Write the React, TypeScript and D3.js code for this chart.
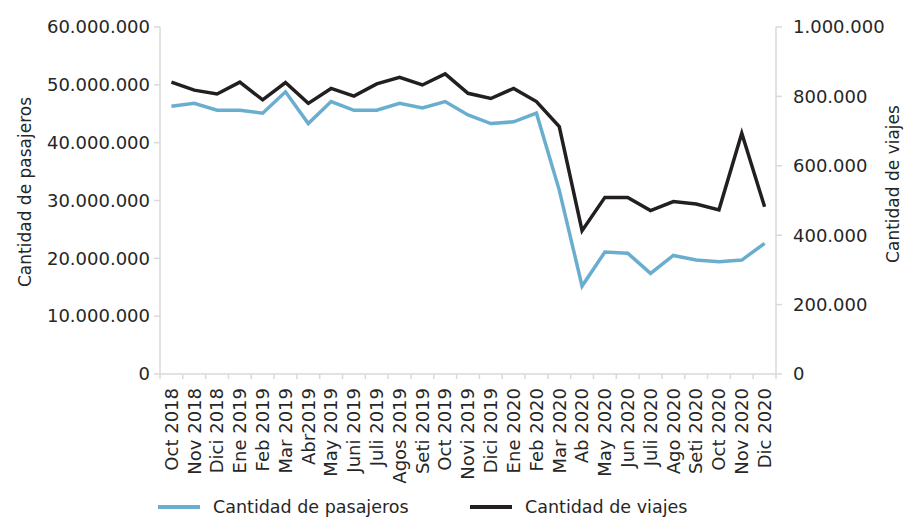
import React from "react";
import * as d3 from "d3";

// months on the x axis, as printed
const months = [
  "Oct 2018", "Nov 2018", "Dici 2018", "Ene 2019", "Feb 2019", "Mar 2019",
  "Abr2019", "May 2019", "Juni 2019", "Juli 2019", "Agos 2019", "Seti 2019",
  "Oct 2019", "Novi 2019", "Dici 2019", "Ene 2020", "Feb 2020", "Mar 2020",
  "Ab 2020", "May 2020", "Jun 2020", "Juli 2020", "Ago 2020", "Seti 2020",
  "Oct 2020", "Nov 2020", "Dic 2020"
];

// Cantidad de pasajeros (left axis)
const pasajeros = [
  46300000, 46800000, 45600000, 45600000, 45100000, 48800000, 43300000,
  47100000, 45600000, 45600000, 46800000, 46000000, 47100000, 44800000,
  43300000, 43600000, 45100000, 31800000, 15200000, 21100000, 20900000,
  17400000, 20500000, 19700000, 19400000, 19700000, 22600000
];

// Cantidad de viajes (right axis)
const viajes = [
  841000, 818000, 807000, 841000, 790000, 840000, 780000, 823000, 801000,
  836000, 855000, 833000, 865000, 809000, 794000, 823000, 785000, 713000,
  413000, 509000, 509000, 471000, 497000, 490000, 473000, 694000, 482000
];

const leftTicks = [0, 10000000, 20000000, 30000000, 40000000, 50000000, 60000000];
const rightTicks = [0, 200000, 400000, 600000, 800000, 1000000];

const W = 904;
const H = 518;
const FONT = "DejaVu Sans";
const TEXT = "#262626";
const AXIS = "#d9d9d9";
const BLUE = "#6aaecf";
const BLACK = "#231f20";

const fmt = (v: number) => d3.format(",")(v).replace(/,/g, ".");

export default function App() {
  const left = 160;
  const right = 776;
  const top = 27;
  const bottom = 374;

  const x = d3.scaleBand<string>().domain(months).range([left, right]).padding(0);
  const cx = (m: string) => (x(m) as number) + x.bandwidth() / 2;
  const yL = d3.scaleLinear().domain([0, 60000000]).range([bottom, top]);
  const yR = d3.scaleLinear().domain([0, 1000000]).range([bottom, top]);

  const lineP = d3
    .line<number>()
    .x((_, i) => cx(months[i]))
    .y((d) => yL(d));
  const lineV = d3
    .line<number>()
    .x((_, i) => cx(months[i]))
    .y((d) => yR(d));

  const boundaries = months.map((m) => x(m) as number).concat([right]);

  return (
    <svg
      width={W}
      height={H}
      style={{ position: "absolute", left: 0, top: 0 }}
      fontFamily={FONT}
    >
      <rect width={W} height={H} fill="#fff" />

      {/* axes */}
      <line x1={left} x2={left} y1={top} y2={bottom} stroke={AXIS} strokeWidth={1.5} />
      <line x1={right} x2={right} y1={top} y2={bottom} stroke={AXIS} strokeWidth={1.5} />
      <line x1={left} x2={right} y1={bottom} y2={bottom} stroke={AXIS} strokeWidth={1.5} />

      {leftTicks.map((t) => (
        <g key={"l" + t}>
          <line x1={left - 6} x2={left} y1={yL(t)} y2={yL(t)} stroke={AXIS} strokeWidth={1.5} />
          <text x={150} y={yL(t)} dy="0.35em" textAnchor="end" fontSize={18} fill={TEXT}>
            {fmt(t)}
          </text>
        </g>
      ))}

      {rightTicks.map((t) => (
        <g key={"r" + t}>
          <line x1={right} x2={right + 6} y1={yR(t)} y2={yR(t)} stroke={AXIS} strokeWidth={1.5} />
          <text x={793} y={yR(t)} dy="0.35em" textAnchor="start" fontSize={18} fill={TEXT}>
            {fmt(t)}
          </text>
        </g>
      ))}

      {boundaries.map((b, i) => (
        <line key={"b" + i} x1={b} x2={b} y1={bottom} y2={bottom + 5} stroke={AXIS} strokeWidth={1.5} />
      ))}

      {months.map((m) => (
        <text
          key={m}
          transform={`translate(${cx(m)},388) rotate(-90)`}
          dy="0.35em"
          textAnchor="end"
          fontSize={18}
          fill={TEXT}
        >
          {m}
        </text>
      ))}

      {/* axis titles */}
      <text
        transform="translate(25,192) rotate(-90)"
        dy="0.35em"
        textAnchor="middle"
        fontSize={17}
        fill={TEXT}
      >
        Cantidad de pasajeros
      </text>
      <text
        transform="translate(893,184) rotate(-90)"
        dy="0.35em"
        textAnchor="middle"
        fontSize={17}
        fill={TEXT}
      >
        Cantidad de viajes
      </text>

      {/* series */}
      <path d={lineP(pasajeros) || ""} fill="none" stroke={BLUE} strokeWidth={3.5} strokeLinejoin="miter" />
      <path d={lineV(viajes) || ""} fill="none" stroke={BLACK} strokeWidth={3.5} strokeLinejoin="miter" />

      {/* legend */}
      <line x1={158} x2={200} y1={507} y2={507} stroke={BLUE} strokeWidth={4} />
      <text x={213} y={507} dy="0.35em" fontSize={17.5} fill={TEXT}>
        Cantidad de pasajeros
      </text>
      <line x1={470} x2={512} y1={507} y2={507} stroke={BLACK} strokeWidth={4} />
      <text x={525} y={507} dy="0.35em" fontSize={17.5} fill={TEXT}>
        Cantidad de viajes
      </text>
    </svg>
  );
}
